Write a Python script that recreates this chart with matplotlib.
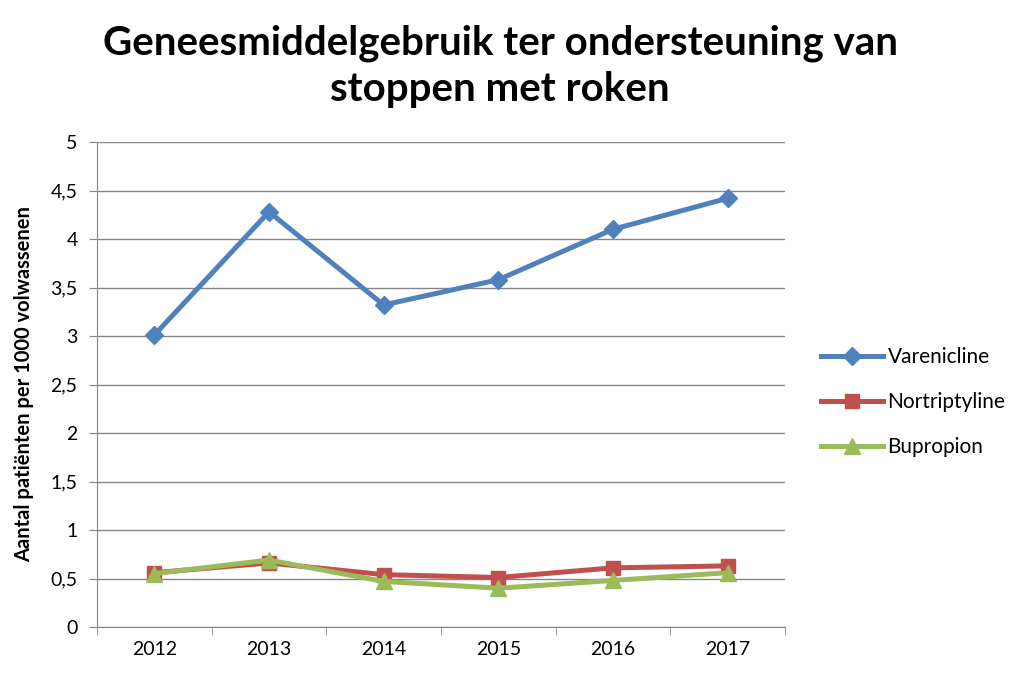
import matplotlib
matplotlib.use('Agg')
import matplotlib.pyplot as plt

plt.rcParams['font.family'] = ['Lato', 'DejaVu Sans']

years = ['2012', '2013', '2014', '2015', '2016', '2017']
varenicline = [3.01, 4.28, 3.32, 3.58, 4.10, 4.42]
nortriptyline = [0.56, 0.66, 0.54, 0.51, 0.61, 0.63]
bupropion = [0.55, 0.69, 0.47, 0.40, 0.48, 0.56]
yticks = [0, 0.5, 1, 1.5, 2, 2.5, 3, 3.5, 4, 4.5, 5]

fig = plt.figure(figsize=(10.21, 6.75), dpi=100)
ax = fig.add_axes([97 / 1021, 1 - 627 / 675, 688 / 1021, 485 / 675])

x = list(range(len(years)))
ax.plot(x, varenicline, color='#4F81BD', lw=3.6, marker='D', ms=9, label='Varenicline')
ax.plot(x, nortriptyline, color='#C0504D', lw=3.6, marker='s', ms=10, label='Nortriptyline')
ax.plot(x, bupropion, color='#9BBB59', lw=3.6, marker='^', ms=11, label='Bupropion')

ax.set_xlim(-0.5, 5.5)
ax.set_ylim(0, 5)
ax.set_yticks(yticks)
ax.set_yticklabels([('%g' % v).replace('.', ',') for v in yticks], fontsize=14)
ax.set_xticks(x)
ax.set_xticklabels(years, fontsize=14)
ax.tick_params(axis='x', length=0, pad=10)
ax.set_xticks([i - 0.5 for i in range(len(years) + 1)], minor=True)
ax.tick_params(axis='x', which='minor', length=6, color='#868686', direction='out')
ax.tick_params(axis='y', length=6, color='#868686', direction='out', pad=8)
ax.yaxis.grid(True, color='#868686', lw=1)
ax.set_axisbelow(True)
for s in ['top', 'right']:
    ax.spines[s].set_visible(False)
for s in ['left', 'bottom']:
    ax.spines[s].set_color('#868686')

ax.set_ylabel('Aantal patiënten per 1000 volwassenen', fontsize=14.5, fontweight='bold', labelpad=12)

fig.text(0.49, 0.963, 'Geneesmiddelgebruik ter ondersteuning van\nstoppen met roken',
         ha='center', va='top', fontsize=29, fontweight='bold', linespacing=1.3)

leg = ax.legend(loc='center left', bbox_to_anchor=(1.025, 0.464), frameon=False,
                fontsize=15, handlelength=3.0, labelspacing=1.2, handletextpad=0.2)

plt.savefig('out.png', dpi=100)
